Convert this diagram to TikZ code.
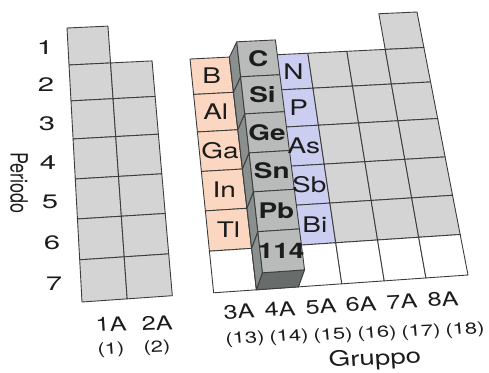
\documentclass[tikz,border=0pt]{standalone}
\usepackage{fontspec}
\setmainfont{TeX Gyre Heros}
\usetikzlibrary{calc}

\definecolor{cellgrey}{RGB}{212,212,212}
\definecolor{peach}{RGB}{251,214,192}
\definecolor{lavender}{RGB}{203,206,240}
\definecolor{boxfront}{RGB}{184,187,185}
\definecolor{boxside}{RGB}{138,144,141}
\definecolor{boxbottom}{RGB}{104,108,106}
\definecolor{linegrey}{RGB}{60,60,60}
\definecolor{ink}{RGB}{28,28,28}

% fractional column / row boundaries of the tilted table
\def\Ufrac{{0,0.117,0.234,0.341,0.452,0.561,0.673,0.783,0.891,1}}
\def\Vfrac{{0,0.135,0.266,0.405,0.551,0.697,0.846,1}}

% one cell of the table: column, top boundary index, fill colour
\newcommand\tablecell[3]{%
  \pgfmathtruncatemacro\cnext{#1+1}%
  \pgfmathtruncatemacro\rnext{#2+1}%
  \path[rule, fill=#3] (p-#1-#2) -- (p-\cnext-#2) -- (p-\cnext-\rnext) -- (p-#1-\rnext) -- cycle;}

\begin{document}
\begin{tikzpicture}[x=1pt, y=-1pt,
  rule/.style={draw=linegrey, line width=0.9pt, line join=round},
  elem/.style={font=\fontsize{21.5}{21.5}\selectfont, text=ink, inner sep=0pt, xscale=1.3},
  elembold/.style={elem, font=\fontsize{21.5}{21.5}\selectfont\bfseries},
  rownum/.style={font=\fontsize{19.5}{19.5}\selectfont, text=ink, inner sep=0pt, xscale=1.5},
  grp/.style={font=\fontsize{19.5}{19.5}\selectfont, text=ink, inner sep=0pt, xscale=1.3},
  grpnum/.style={font=\fontsize{16}{16}\selectfont, text=ink, inner sep=0pt, xscale=1.38},
  axis/.style={font=\fontsize{21}{21}\selectfont, text=ink, inner sep=0pt, xscale=1.32}]

\useasboundingbox (0,0) rectangle (489,372);

% grid points p-c-r on the table plane, q-c-r on the raised front face
\foreach \ci in {0,...,9}{
  \foreach \ri in {0,...,7}{
    \pgfmathsetmacro\uu{\Ufrac[\ci]}
    \pgfmathsetmacro\vv{\Vfrac[\ri]}
    \pgfmathsetmacro\px{(1-\vv)*(67+350*\uu)+\vv*(82+386*\uu)}
    \pgfmathsetmacro\py{(1-\vv)*(28-16*\uu)+\vv*(302-27*\uu)}
    \pgfmathsetmacro\qx{\px+7.5-1.5*\vv}
    \pgfmathsetmacro\qy{\py-15-2*\vv}
    \coordinate (p-\ci-\ri) at (\px,\py);
    \coordinate (q-\ci-\ri) at (\qx,\qy);
  }
}

% groups 1A and 2A
\foreach \ri in {0,...,6} {\tablecell{0}{\ri}{cellgrey}}
\foreach \ri in {1,...,6} {\tablecell{1}{\ri}{cellgrey}}
% group 3A
\foreach \ri in {1,...,5} {\tablecell{3}{\ri}{peach}}
\tablecell{3}{6}{white}
% group 4A (under the raised column)
\foreach \ri in {1,...,6} {\tablecell{4}{\ri}{cellgrey}}
% group 5A
\foreach \ri in {1,...,5} {\tablecell{5}{\ri}{lavender}}
\tablecell{5}{6}{white}
% groups 6A and 7A
\foreach \ci in {6,7} {
  \foreach \ri in {1,...,5} {\tablecell{\ci}{\ri}{cellgrey}}
  \tablecell{\ci}{6}{white}
}
% group 8A
\foreach \ri in {0,...,5} {\tablecell{8}{\ri}{cellgrey}}
\tablecell{8}{6}{white}

% raised column of group 4A: left side, bottom, front
\foreach \ri in {1,...,6} {
  \pgfmathtruncatemacro\rn{\ri+1}
  \path[rule, fill=boxside] (p-4-\ri) -- (q-4-\ri) -- (q-4-\rn) -- (p-4-\rn) -- cycle;
}
\path[rule, fill=boxbottom] (p-4-7) -- (p-5-7) -- (q-5-7) -- (q-4-7) -- cycle;
\foreach \ri in {1,...,6} {
  \pgfmathtruncatemacro\rn{\ri+1}
  \path[rule, fill=boxfront] (q-4-\ri) -- (q-5-\ri) -- (q-5-\rn) -- (q-4-\rn) -- cycle;
}

% element symbols
\foreach \sym [count=\i] in {B,Al,Ga,In,Tl} {
  \pgfmathtruncatemacro\rn{\i+1}
  \node[elem] (el3-\i) at ($(p-3-\i)!.5!(p-4-\rn)$) {\sym};
}
\foreach \sym [count=\i] in {N,P,As,Sb,Bi} {
  \pgfmathtruncatemacro\rn{\i+1}
  \node[elem] (el5-\i) at ($(p-5-\i)!.5!(p-6-\rn)+(3,0)$) {\sym};
}
\foreach \sym [count=\i] in {C,Si,Ge,Sn,Pb,114} {
  \pgfmathtruncatemacro\rn{\i+1}
  \node[elembold] (el4-\i) at ($(q-4-\i)!.5!(q-5-\rn)$) {\sym};
}

% period numbers and axis title
\foreach \x/\y [count=\i] in {45/48,46/85,47/124,48/163,50/202,52/243,54/284}
  \node[rownum] (per-\i) at (\x,\y) {\i};
\node[axis, font=\fontsize{18}{18}\selectfont, rotate=-90] (periodo) at (19,183) {Periodo};

% group labels
\node[grp, rotate=3] (grp-1) at (111,324) {1A};
\node[grp, rotate=3] (grp-2) at (157,323) {2A};
\node[grpnum, rotate=3] (num-1) at (111,350) {(1)};
\node[grpnum, rotate=3] (num-2) at (157,348) {(2)};
\foreach \lab/\x/\y [count=\i] in {3A/239/311.5,4A/280/309,5A/321/306.5,6A/361/304,7A/402/301.5,8A/443/299}
  \node[grp, rotate=3.6] (grp-r\i) at (\x,\y) {\lab};
\foreach \lab/\x/\y [count=\i] in {13/245/339,14/289/337,15/333/335.5,16/377/333.5,17/421/332,18/465/330}
  \node[grpnum, rotate=3.6] (num-r\i) at (\x,\y) {(\lab)};
\node[axis, rotate=3] (gruppo) at (375,359.5) {Gruppo};

\end{tikzpicture}
\end{document}
